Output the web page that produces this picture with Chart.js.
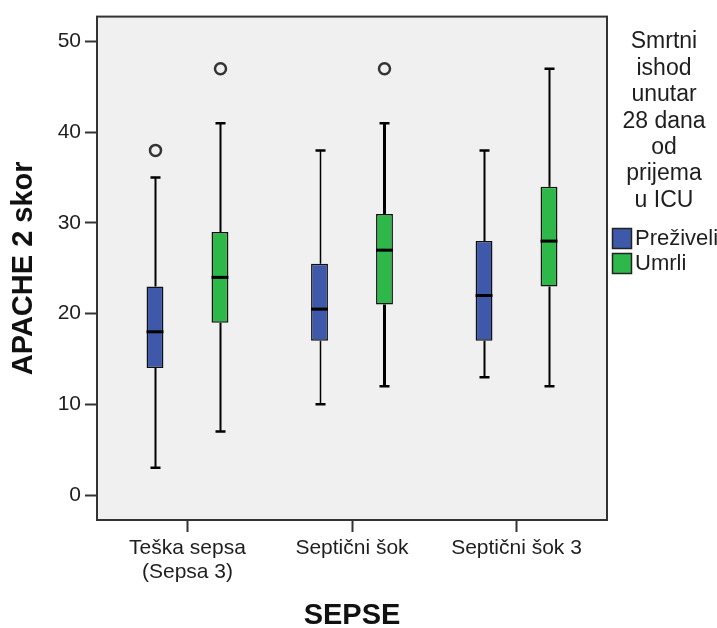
<!DOCTYPE html>
<html>
<head>
<meta charset="utf-8">
<script src="https://cdn.jsdelivr.net/npm/chart.js@4.4.0/dist/chart.umd.min.js"></script>
<style>
  html, body { margin: 0; padding: 0; background: #fff; }
  #wrap { width: 717px; height: 628px; }
</style>
</head>
<body>
<div id="wrap"><canvas id="boxChart" width="717" height="628"></canvas></div>
<script>
// SEPSE groups on the x axis
const categories = [['Teška sepsa', '(Sepsa 3)'], 'Septični šok', 'Septični šok 3'];
const seriesNames = ['Preživeli', 'Umrli'];
const legendTitle = ['Smrtni', 'ishod', 'unutar', '28 dana', 'od', 'prijema', 'u ICU'];

// APACHE 2 skor per group: whiskers, quartiles, median, outliers
const survivedLow = [3, 10, 13];
const survivedQ1 = [14, 17, 17];
const survivedMedian = [18, 20.5, 22];
const survivedQ3 = [23, 25.5, 28];
const survivedHigh = [35, 38, 38];
const survivedOutliers = [[38], [], []];

const diedLow = [7, 12, 12];
const diedQ1 = [19, 21, 23];
const diedMedian = [24, 27, 28];
const diedQ3 = [29, 31, 34];
const diedHigh = [41, 41, 47];
const diedOutliers = [[47], [47], []];

const yTicks = [0, 10, 20, 30, 40, 50];

const FONT = "'Liberation Sans', Arial, sans-serif";
const TEXT = '#1e1e1e';
const BLUE = '#3e58aa';
const GREEN = '#2fb84a';

// whiskers, medians, outliers, frame and legend around the floating bars
const boxPlotExtras = {
  id: 'boxPlotExtras',
  beforeDraw(chart) {
    const { ctx, chartArea: a } = chart;
    ctx.save();
    ctx.fillStyle = '#ffffff';
    ctx.fillRect(0, 0, chart.width, chart.height);
    ctx.fillStyle = '#f0f0f0';
    ctx.fillRect(a.left, a.top, a.right - a.left, a.bottom - a.top);
    ctx.restore();
  },
  beforeDatasetsDraw(chart) {
    const { ctx } = chart;
    const y = chart.scales.y;
    ctx.save();
    ctx.strokeStyle = '#000';
    chart.data.datasets.forEach((ds, di) => {
      chart.getDatasetMeta(di).data.forEach((bar, i) => {
        const x = Math.round(bar.x) + 0.5;
        const pLow = y.getPixelForValue(ds.low[i]);
        const pHigh = y.getPixelForValue(ds.high[i]);
        ctx.lineWidth = ds.whiskerWidth[i];
        ctx.beginPath();
        ctx.moveTo(x, pLow);
        ctx.lineTo(x, y.getPixelForValue(ds.data[i][0]));
        ctx.moveTo(x, y.getPixelForValue(ds.data[i][1]));
        ctx.lineTo(x, pHigh);
        ctx.stroke();
        // caps
        ctx.lineWidth = 2.5;
        ctx.beginPath();
        ctx.moveTo(x - 5, pLow);
        ctx.lineTo(x + 5, pLow);
        ctx.moveTo(x - 5, pHigh);
        ctx.lineTo(x + 5, pHigh);
        ctx.stroke();
      });
    });
    ctx.restore();
  },
  afterDatasetsDraw(chart) {
    const { ctx, chartArea: a } = chart;
    const y = chart.scales.y;
    ctx.save();
    chart.data.datasets.forEach((ds, di) => {
      chart.getDatasetMeta(di).data.forEach((bar, i) => {
        const half = bar.width / 2;
        const pMed = y.getPixelForValue(ds.median[i]);
        ctx.strokeStyle = '#000';
        ctx.lineWidth = 3;
        ctx.beginPath();
        ctx.moveTo(bar.x - half, pMed);
        ctx.lineTo(bar.x + half, pMed);
        ctx.stroke();
        ctx.strokeStyle = '#333';
        ctx.lineWidth = 2.5;
        ds.outliers[i].forEach(v => {
          ctx.beginPath();
          ctx.arc(Math.round(bar.x) + 0.5, y.getPixelForValue(v), 5.5, 0, Math.PI * 2);
          ctx.stroke();
        });
      });
    });
    // plot frame
    ctx.strokeStyle = '#333';
    ctx.lineWidth = 2;
    ctx.strokeRect(a.left, a.top, a.right - a.left, a.bottom - a.top);
    ctx.restore();
  },
  afterDraw(chart) {
    const { ctx } = chart;
    const cx = 664;
    ctx.save();
    ctx.fillStyle = TEXT;
    ctx.textAlign = 'center';
    ctx.textBaseline = 'middle';
    ctx.font = '23px ' + FONT;
    legendTitle.forEach((line, i) => ctx.fillText(line, cx, 42 + i * 26.4));
    ctx.textAlign = 'left';
    ctx.font = '22px ' + FONT;
    chart.data.datasets.forEach((ds, i) => {
      const top = 228 + i * 25;
      ctx.fillStyle = ds.backgroundColor;
      ctx.fillRect(612, top, 20, 21);
      ctx.strokeStyle = '#222';
      ctx.lineWidth = 1.5;
      ctx.strokeRect(612.5, top + 0.5, 19, 20);
      ctx.fillStyle = TEXT;
      ctx.fillText(ds.label, 635, top + 11);
    });
    ctx.restore();
  }
};

const boxDataset = (label, color, q1, q3, low, high, median, outliers, whiskerWidth) => ({
  label,
  data: q1.map((q, i) => [q, q3[i]]),
  low, high, median, outliers, whiskerWidth,
  backgroundColor: color,
  borderColor: '#111',
  borderWidth: 1.5,
  borderSkipped: false,
  categoryPercentage: 0.79,
  barPercentage: 0.26
});

new Chart(document.getElementById('boxChart'), {
  type: 'bar',
  data: {
    labels: categories,
    datasets: [
      boxDataset(seriesNames[0], BLUE, survivedQ1, survivedQ3, survivedLow, survivedHigh,
        survivedMedian, survivedOutliers, [2, 1.5, 2]),
      boxDataset(seriesNames[1], GREEN, diedQ1, diedQ3, diedLow, diedHigh,
        diedMedian, diedOutliers, [2, 3, 2])
    ]
  },
  options: {
    responsive: false,
    animation: false,
    layout: { padding: { top: 15, right: 110, left: 0, bottom: 0 } },
    plugins: {
      legend: { display: false },
      tooltip: { enabled: false }
    },
    scales: {
      x: {
        grid: { display: true, offset: false, drawOnChartArea: false, tickLength: 12, tickColor: '#333', tickWidth: 2 },
        border: { display: false },
        ticks: { font: { family: FONT, size: 21, lineHeight: 1.15 }, color: TEXT, padding: 4, maxRotation: 0, autoSkip: false },
        title: {
          display: true, text: 'SEPSE', color: '#111',
          font: { family: FONT, size: 29, weight: 'bold', lineHeight: 0.8 },
          padding: { top: 0, bottom: 0 }
        },
        // tighter group spacing than an even split of the plot width
        afterBuildTicks(scale) {
          scale._startValue = -0.55;
          scale._valueRange = 3.1;
        },
        afterFit(scale) { scale.height = 108; }
      },
      y: {
        min: -2.75,
        max: 52.75,
        grid: { display: true, drawOnChartArea: false, tickLength: 12, tickColor: '#333', tickWidth: 2 },
        border: { display: false },
        ticks: { font: { family: FONT, size: 21 }, color: TEXT, padding: 4 },
        afterBuildTicks(scale) { scale.ticks = yTicks.map(v => ({ value: v })); },
        title: {
          display: true, text: 'APACHE 2 skor', color: '#111',
          font: { family: FONT, size: 29, weight: 'bold' },
          padding: { top: 6.6, bottom: 0 }
        },
        afterFit(scale) { scale.width = 97; }
      }
    }
  },
  plugins: [boxPlotExtras]
});
</script>
</body>
</html>
